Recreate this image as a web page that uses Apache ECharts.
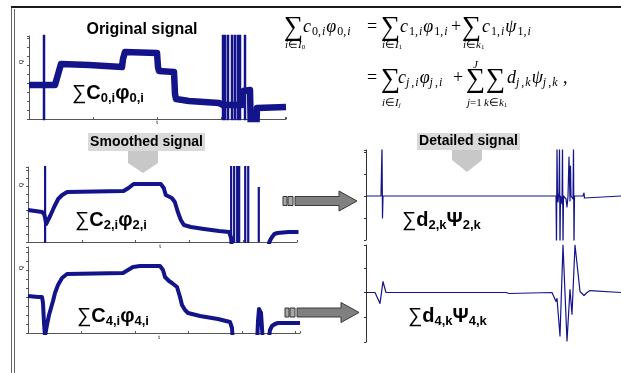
<!DOCTYPE html>
<html><head><meta charset="utf-8">
<script src="https://cdn.jsdelivr.net/npm/echarts@6/dist/echarts.min.js"></script>
<style>html,body{margin:0;padding:0;background:#fff}#c{width:621px;height:373px}</style>
</head><body><div id="c"></div>
<script>
// ---------------- data (t = sample index, Q = amplitude) ----------------
// original signal: noisy step levels
const originalLevels = [[0,34],[26,34],[27,36],[30,48],[32,55],[34,55],[60,54],[93,52],[94,60],[96,67],[128,66],[129,52],[130,48],[145,47],[146,25],[147,20],[160,18],[190,16],[194,14],[213,14],[214,28],[221,29],[222,-20],[227,-20],[228,11],[257,12]];
// original signal: outliers [t, from, to]
const originalSpikes = [[15,-10,95],[194,-10,95],[196,-10,95],[199,-10,95],[203,-10,95],[206,-10,95],[209,-10,95],[211,-10,95],[216,-10,95]];
// approximation at level 2
const smooth2 = [[0,32],[14,30],[16,28],[17,24],[18,18],[19,20],[22,26],[26,35],[30,43],[34,47],[39,50],[95,51],[100,54],[105,58],[132,58],[135,54],[137,47],[143,44],[146,40],[149,30],[152,22],[155,17],[162,15],[175,13],[190,11],[200,10],[202,4],[203,-12],[238,-12],[240,0],[242,4],[245,8],[248,9],[259,10],[269,10]];
const smooth2Spikes = [[17,-10,90],[202,-10,90],[205,-10,90],[208,-10,90],[210,-10,90],[216,-10,90],[219,-10,90],[229.5,0,55]];
// approximation at level 4
const smooth4 = [[0,37],[10,36],[14,36],[15,30],[16,10],[17,-3],[18,-3],[19,8],[21,18],[23,25],[25,32],[27,40],[30,48],[34,55],[39,59],[95,60],[100,63],[105,66],[112,67],[132,67],[135,63],[137,56],[141,52],[144,50],[149,46],[152,36],[154,28],[157,23],[160,20],[172,17],[190,14],[202,11],[204,5],[205,-12],[229,-12],[230,12],[231,24],[232,25],[233,20],[234,5],[235,-12],[240,-12],[242,3],[244,7],[247,9],[250,10],[272,10]];
// detail coefficients
const detail2 = [[0,0],[15,0],[16,50],[16.5,-22],[17,0],[18,2],[19,-1],[20,0],[190,0],[190.5,-50],[191,50],[191.5,0],[192,-6],[193,4],[193.5,50],[194,-50],[194.5,0],[196,-8],[196.5,50],[197,-50],[197.5,0],[200,-3],[201,-11],[202,0],[203,39],[204,-5],[204.5,30],[205,0],[207,-3],[207.5,50],[208,-50],[208.5,0],[217,0],[218,3],[218.5,-2],[219,0],[255,0]];
const detail4 = [[0,0],[9,0],[11,-2],[14,-11],[17,11],[20,0],[140,0],[143,-1],[145,0],[186,0],[188,-2],[190,-9],[191,-6],[194,-44],[197,48],[201,-49],[204,3],[206,-22],[209,48],[214,1],[216,-1],[218,-3],[221,0],[224,2],[226,0],[255,0]];

const NAVY = '#14148a';
const AX = '#555';
const SERIF = '"Liberation Serif","Times New Roman",serif';
const SANS = '"Liberation Sans",Arial,sans-serif';

function spikeSeries(list) {
  const out = [];
  list.forEach(([t, a, b]) => { out.push([t, a], [t, b], [t, '-']); });
  return out;
}

const grids = [
  {left: 29, top: 36, width: 257, height: 83},
  {left: 28, top: 167, width: 269, height: 75},
  {left: 28, top: 247, width: 272, height: 86},
  {left: 366, top: 150, width: 255, height: 90},
  {left: 366, top: 245, width: 255, height: 97}
];

function xAxisOf(i, max, interval, show) {
  return {gridIndex: i, type: 'value', min: 0, max: max, interval: interval, show: show,
    axisLine: {lineStyle: {color: AX, width: 1}},
    axisTick: {inside: true, length: 2, lineStyle: {color: AX}},
    axisLabel: {show: false}, splitLine: {show: false}};
}
function yAxisOf(i, min, max, interval, color) {
  return {gridIndex: i, type: 'value', min: min, max: max, interval: interval,
    axisLine: {show: true, onZero: false, lineStyle: {color: color, width: 1}},
    axisTick: {show: true, inside: false, length: 2, lineStyle: {color: color}},
    axisLabel: {show: false}, splitLine: {show: false}};
}
function lineSeries(i, data, width) {
  return {type: 'line', xAxisIndex: i, yAxisIndex: i, data: data, showSymbol: false, symbol: 'none',
    smooth: false, connectNulls: false, clip: true, animation: false,
    lineStyle: {color: NAVY, width: width, join: 'round'}};
}

// ---------------- text helpers ----------------
function txt(x, y, text, font, opts) {
  return Object.assign({type: 'text', x: x, y: y, z: 100,
    style: Object.assign({text: text, font: font, fill: '#000', align: 'left', verticalAlign: 'top',
      textAlign: 'left', textVerticalAlign: 'top'}, (opts && opts.style) || {})}, (opts && opts.el) || {});
}
function richTxt(x, y, text, rich) {
  return {type: 'text', x: x, y: y, z: 100,
    style: {text: text, rich: rich, fill: '#000', font: '18px ' + SERIF, align: 'left', verticalAlign: 'top',
      textAlign: 'left', textVerticalAlign: 'top'}};
}

const mathRich = {
  v: {fontFamily: SERIF, fontStyle: 'italic', fontSize: 18, lineHeight: 22, fill: '#000'},
  n: {fontFamily: SERIF, fontSize: 18, lineHeight: 22, fill: '#000'},
  s: {fontFamily: SERIF, fontSize: 12, lineHeight: 12, verticalAlign: 'bottom', padding: [0, 1, 0, 1], fill: '#000'},
  si: {fontFamily: SERIF, fontStyle: 'italic', fontSize: 12, lineHeight: 12, verticalAlign: 'bottom', padding: [0, 1, 0, 0], fill: '#000'}
};
const limRich = {
  li: {fontFamily: SERIF, fontStyle: 'italic', fontSize: 11, lineHeight: 12, fill: '#000'},
  ln: {fontFamily: SERIF, fontSize: 11, lineHeight: 12, fill: '#000'},
  ls: {fontFamily: SERIF, fontSize: 7, lineHeight: 7, verticalAlign: 'bottom', fill: '#000'},
  lsi: {fontFamily: SERIF, fontStyle: 'italic', fontSize: 7, lineHeight: 7, verticalAlign: 'bottom', fill: '#000'}
};
const labelRich = {
  sum: {fontFamily: SANS, fontSize: 20, lineHeight: 24, fill: '#000'},
  b: {fontFamily: SANS, fontWeight: 'bold', fontSize: 20, lineHeight: 24, fill: '#000'},
  bs: {fontFamily: SANS, fontWeight: 'bold', fontSize: 13, lineHeight: 13, verticalAlign: 'bottom', fill: '#000'}
};
function bigSum(x, cy) {
  return {type: 'text', x: x, y: cy, z: 100,
    style: {text: '∑', font: '27px ' + SERIF, fill: '#000', align: 'left', verticalAlign: 'middle',
      textAlign: 'left', textVerticalAlign: 'middle'}};
}

const graphics = [];
// double frame
graphics.push({type: 'line', shape: {x1: 11.5, y1: 6, x2: 11.5, y2: 373}, style: {stroke: '#666', lineWidth: 1}});
graphics.push({type: 'line', shape: {x1: 14.5, y1: 9, x2: 14.5, y2: 373}, style: {stroke: '#666', lineWidth: 1}});
graphics.push({type: 'line', shape: {x1: 11, y1: 7, x2: 621, y2: 7}, style: {stroke: '#1a1a1a', lineWidth: 2}});

// panel titles
graphics.push(txt(142, 30, 'Original signal', 'bold 16px ' + SANS, {style: {align: 'center', textAlign: 'center', verticalAlign: 'middle', textVerticalAlign: 'middle'}}));
graphics.push({type: 'rect', shape: {x: 88, y: 133, width: 117, height: 18}, style: {fill: '#d9d9d9'}});
graphics.push(txt(146.5, 142, 'Smoothed signal', 'bold 14px ' + SANS, {style: {align: 'center', textAlign: 'center', verticalAlign: 'middle', textVerticalAlign: 'middle'}}));
graphics.push({type: 'polygon', shape: {points: [[128,151],[158,151],[158,163],[143,173],[128,163]]}, style: {fill: '#c8c8c8'}});
graphics.push({type: 'rect', shape: {x: 417, y: 133, width: 103, height: 17}, style: {fill: '#d9d9d9'}});
graphics.push(txt(468.5, 141.5, 'Detailed signal', 'bold 14px ' + SANS, {style: {align: 'center', textAlign: 'center', verticalAlign: 'middle', textVerticalAlign: 'middle'}}));
graphics.push({type: 'polygon', shape: {points: [[452,150],[482,150],[482,160],[467,172],[452,160]]}, style: {fill: '#c8c8c8'}});

// transfer arrows
function blockArrow(x0, cy) {
  graphics.push({type: 'rect', shape: {x: x0, y: cy - 4.5, width: 4, height: 9}, style: {fill: '#a8a8a8', stroke: '#333', lineWidth: 1}});
  graphics.push({type: 'rect', shape: {x: x0 + 5, y: cy - 4.5, width: 5, height: 9}, style: {fill: '#a8a8a8', stroke: '#333', lineWidth: 1}});
  graphics.push({type: 'polygon', shape: {points: [[x0+12,cy-4.5],[x0+56,cy-4.5],[x0+56,cy-10],[x0+74,cy],[x0+56,cy+10],[x0+56,cy+4.5],[x0+12,cy+4.5]]},
    style: {fill: '#808080', stroke: '#3a3a3a', lineWidth: 1}});
}
blockArrow(283, 201);
blockArrow(285, 312.5);

// axis names
[[21, 62], [21, 185], [21, 268]].forEach(([x, y]) => {
  graphics.push({type: 'text', x: x, y: y, rotation: Math.PI / 2, z: 100,
    style: {text: 'Q', font: '6px ' + SANS, fill: '#000', align: 'center', verticalAlign: 'middle', textAlign: 'center', textVerticalAlign: 'middle'}});
});
[[157, 122], [160, 246], [159, 337]].forEach(([x, y]) => {
  graphics.push(txt(x, y, 't', '6px ' + SANS, {style: {align: 'center', textAlign: 'center', verticalAlign: 'middle', textVerticalAlign: 'middle'}}));
});

// coefficient labels
graphics.push(richTxt(72, 81, '{sum|∑}{b|C}{bs|0,i}{b|φ}{bs|0,i}', labelRich));
graphics.push(richTxt(75, 208, '{sum|∑}{b|C}{bs|2,i}{b|φ}{bs|2,i}', labelRich));
graphics.push(richTxt(77, 304, '{sum|∑}{b|C}{bs|4,i}{b|φ}{bs|4,i}', labelRich));
graphics.push(richTxt(402, 208, '{sum|∑}{b|d}{bs|2,k}{b|Ψ}{bs|2,k}', labelRich));
graphics.push(richTxt(408, 304, '{sum|∑}{b|d}{bs|4,k}{b|Ψ}{bs|4,k}', labelRich));

// multiresolution formula, line 1
graphics.push(bigSum(284, 27.5));
graphics.push(richTxt(285, 39, '{li|i}{ln|∈}{li|I}{ls|0}', limRich));
graphics.push(richTxt(303, 16, '{v|c}{s|0,}{si|i}{v|φ}{s|0,}{si|i}', mathRich));
graphics.push(richTxt(367, 16, '{n|=}', mathRich));
graphics.push(bigSum(381, 27.5));
graphics.push(richTxt(382, 39, '{li|i}{ln|∈}{li|I}{ls|1}', limRich));
graphics.push(richTxt(400, 16, '{v|c}{s|1,}{si|i}{v|φ}{s|1,}{si|i}', mathRich));
graphics.push(richTxt(451, 16, '{n|+}', mathRich));
graphics.push(bigSum(462, 27.5));
graphics.push(richTxt(463, 39, '{li|i}{ln|∈}{li|k}{ls|1}', limRich));
graphics.push(richTxt(482, 16, '{v|c}{s|1,}{si|i}{v|ψ}{s|1,}{si|i}', mathRich));
// line 2
graphics.push(richTxt(367, 67, '{n|=}', mathRich));
graphics.push(bigSum(381, 80));
graphics.push(richTxt(382, 97, '{li|i}{ln|∈}{li|I}{lsi|j}', limRich));
graphics.push(richTxt(398, 67, '{v|c}{si|j}{s|,}{si|i}{v|φ}{si|j}{s|,}{si|i}', mathRich));
graphics.push(richTxt(453, 67, '{n|+}', mathRich));
graphics.push(richTxt(473, 59, '{li|J}', limRich));
graphics.push(bigSum(466, 80));
graphics.push(richTxt(467, 97, '{li|j}{ln|=1}', limRich));
graphics.push(bigSum(486, 80));
graphics.push(richTxt(484, 97, '{li|k}{ln|∈}{li|k}{ls|1}', limRich));
graphics.push(richTxt(507, 67, '{v|d}{si|j}{s|,}{si|k}{v|ψ}{si|j}{s|,}{si|k}{n| ,}', mathRich));

const option = {
  backgroundColor: '#fff',
  animation: false,
  grid: grids,
  xAxis: [
    xAxisOf(0, 257, 64, true),
    xAxisOf(1, 267.5, 53.5, true),
    xAxisOf(2, 272, 53.5, true),
    xAxisOf(3, 255, 50, false),
    xAxisOf(4, 255, 50, false)
  ],
  yAxis: [
    yAxisOf(0, 0, 83, 9, AX),
    yAxisOf(1, 0, 75, 8, AX),
    yAxisOf(2, 0, 86, 9, AX),
    yAxisOf(3, -44, 46, 22, '#333'),
    yAxisOf(4, -50, 48, 25, '#333')
  ],
  series: [
    lineSeries(0, originalLevels, 6.5),
    lineSeries(0, spikeSeries(originalSpikes), 2.5),
    lineSeries(1, smooth2, 4),
    lineSeries(1, spikeSeries(smooth2Spikes), 2.2),
    lineSeries(2, smooth4, 4),
    lineSeries(3, detail2, 1.2),
    lineSeries(4, detail4, 1.2)
  ],
  graphic: {elements: graphics}
};
const chart = echarts.init(document.getElementById('c'));
chart.setOption(option);
</script>
</body></html>
